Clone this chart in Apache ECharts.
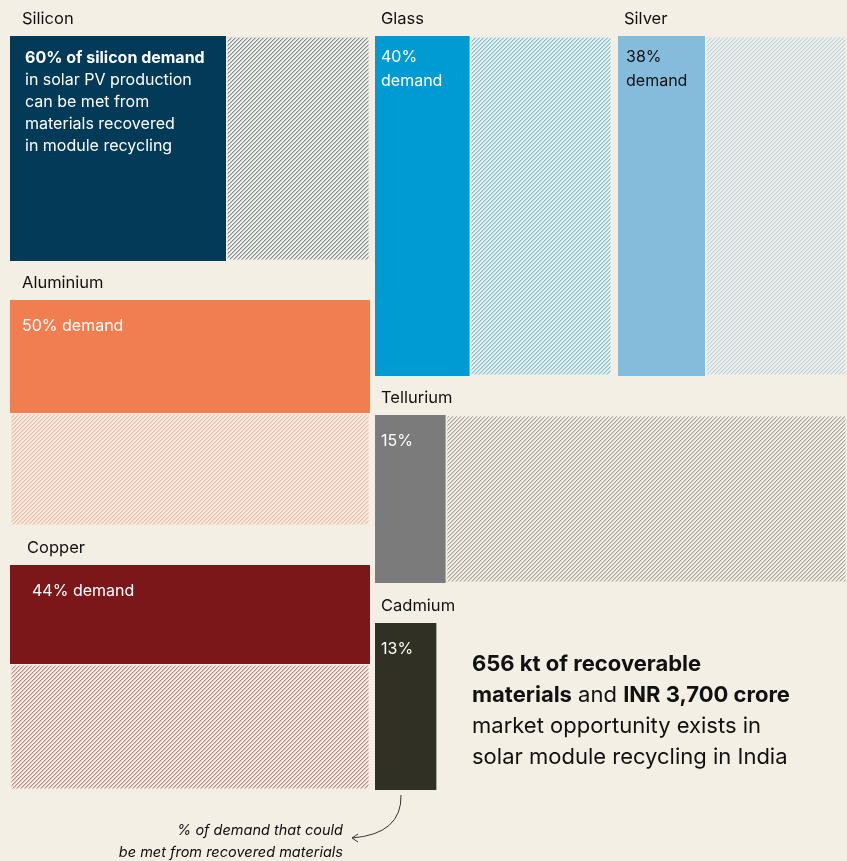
<!DOCTYPE html>
<html>
<head>
<meta charset="utf-8">
<style>
  html, body { margin: 0; padding: 0; background: #f4efe4; }
  #chart { width: 847px; height: 861px; }
</style>
<script src="https://cdn.jsdelivr.net/npm/echarts@6/dist/echarts.min.js"></script>
</head>
<body>
<div id="chart"></div>
<script>
// ---- data ----
const materials = ['Silicon', 'Glass', 'Silver', 'Aluminium', 'Tellurium', 'Copper', 'Cadmium'];
const recoveredPct = [60, 40, 38, 50, 15, 44, 13];
const blockText = [
  '{b|60% of silicon demand}\nin solar PV production\ncan be met from\nmaterials recovered\nin module recycling',
  '40%\ndemand',
  '38%\ndemand',
  '50% demand',
  '15%',
  '44% demand',
  '13%'
];
const calloutLines = [
  '{b|656 kt of recoverable}',
  '{b|materials} and {b|INR 3,700 crore}',
  'market opportunity exists in',
  'solar module recycling in India'
];
const noteLines = ['% of demand that could', 'be met from recovered materials'];

// ---- layout / style ----
const BG = '#f4efe4';
const FONT = 'Inter, "Noto Sans", sans-serif';
const layout = [
  { left: 10,  top: 36,  width: 360, height: 225, dir: 'h', solid: '#033a58', hatch: '#7f919a', txt: '#ffffff', pad: [15, 11], lh: 22 },
  { left: 375, top: 36,  width: 237, height: 340, dir: 'h', solid: '#009bd3', hatch: '#6fc1e3', txt: '#ffffff', pad: [6, 9],  lh: 24 },
  { left: 618, top: 36,  width: 229, height: 340, dir: 'h', solid: '#86bcdb', hatch: '#b5d5e6', txt: '#111111', pad: [8, 9],  lh: 24 },
  { left: 10,  top: 300, width: 360, height: 226, dir: 'v', solid: '#f07e50', hatch: '#f2b69c', txt: '#ffffff', pad: [12, 15], lh: 22 },
  { left: 375, top: 415, width: 472, height: 168, dir: 'h', solid: '#7b7b7b', hatch: '#a8a59f', txt: '#ffffff', pad: [6, 15], lh: 22 },
  { left: 10,  top: 565, width: 360, height: 225, dir: 'v', solid: '#7c1719', hatch: '#c08884', txt: '#ffffff', pad: [22, 15], lh: 22 },
  { left: 375, top: 623, width: 472, height: 167, dir: 'h', solid: '#303124', hatch: null,      txt: '#ffffff', pad: [6, 15], lh: 22 }
];

function hatchPattern(color) {
  const c = document.createElement('canvas');
  c.width = 4; c.height = 4;
  const ctx = c.getContext('2d');
  ctx.fillStyle = BG;
  ctx.fillRect(0, 0, 4, 4);
  ctx.fillStyle = color;
  for (let x = 0; x < 4; x++) {
    for (let y = 0; y < 4; y++) {
      const k = (x + y) % 4;
      if (k === 0) { ctx.globalAlpha = 1; ctx.fillRect(x, y, 1, 1); }
      else if (k === 1) { ctx.globalAlpha = 0.45; ctx.fillRect(x, y, 1, 1); }
    }
  }
  ctx.globalAlpha = 1;
  return { image: c, repeat: 'repeat' };
}

const grids = [], xAxes = [], yAxes = [], series = [], graphics = [];
materials.forEach((name, i) => {
  const L = layout[i];
  grids.push({ left: L.left, top: L.top, width: L.width, height: L.height, containLabel: false });
  if (L.dir === 'h') {
    xAxes.push({ gridIndex: i, type: 'value', min: 0, max: 100, show: false });
    yAxes.push({ gridIndex: i, type: 'category', data: [name], show: false });
  } else {
    xAxes.push({ gridIndex: i, type: 'category', data: [name], show: false });
    yAxes.push({ gridIndex: i, type: 'value', min: 0, max: 100, inverse: true, show: false });
  }
  series.push({
    type: 'bar', name: name, xAxisIndex: i, yAxisIndex: i, stack: 's' + i,
    barWidth: '100%', silent: true,
    data: [recoveredPct[i]],
    itemStyle: { color: L.solid },
    label: {
      show: true, position: L.pad, align: 'left', verticalAlign: 'top',
      formatter: blockText[i], color: L.txt, fontFamily: FONT, fontSize: 16, lineHeight: L.lh,
      rich: { b: { fontWeight: 'bold', fontSize: 16, lineHeight: L.lh, color: L.txt, fontFamily: FONT } }
    }
  });
  series.push({
    type: 'bar', name: name + ' remainder', xAxisIndex: i, yAxisIndex: i, stack: 's' + i,
    barWidth: '100%', silent: true,
    data: [100 - recoveredPct[i]],
    itemStyle: L.hatch
      ? { color: hatchPattern(L.hatch), borderColor: BG, borderWidth: 1.5 }
      : { color: 'rgba(0,0,0,0)' }
  });
  graphics.push({
    type: 'text', left: L.left + (i === 5 ? 17 : (L.left === 10 ? 12 : 6)), top: L.top - 25,
    style: { text: name, fill: '#111', font: '16.5px ' + FONT }
  });
});

graphics.push({
  type: 'text', left: 472, top: 649,
  style: {
    text: calloutLines.join('\n'), fill: '#111', font: '22px ' + FONT, lineHeight: 31,
    rich: { b: { fontWeight: 'bold', fontSize: 22, lineHeight: 31, fontFamily: FONT, fill: '#111' } }
  }
});
noteLines.forEach((t, k) => {
  graphics.push({
    type: 'text',
    style: { text: t, x: 343, y: 831 + k * 22, align: 'right', verticalAlign: 'middle', fill: '#111', font: 'italic 14.5px ' + FONT }
  });
});
graphics.push({
  type: 'bezierCurve',
  shape: { x1: 401, y1: 795, cpx1: 402, cpy1: 834, x2: 352, y2: 838 },
  style: { stroke: '#333', lineWidth: 1, fill: null }
});
graphics.push({
  type: 'polyline',
  shape: { points: [[358, 834], [352, 838], [358, 842]] },
  style: { stroke: '#333', lineWidth: 1, fill: null }
});

const chart = echarts.init(document.getElementById('chart'), null, { renderer: 'canvas' });
chart.setOption({
  backgroundColor: BG,
  animation: false,
  grid: grids,
  xAxis: xAxes,
  yAxis: yAxes,
  series: series,
  graphic: graphics
});
</script>
</body>
</html>
